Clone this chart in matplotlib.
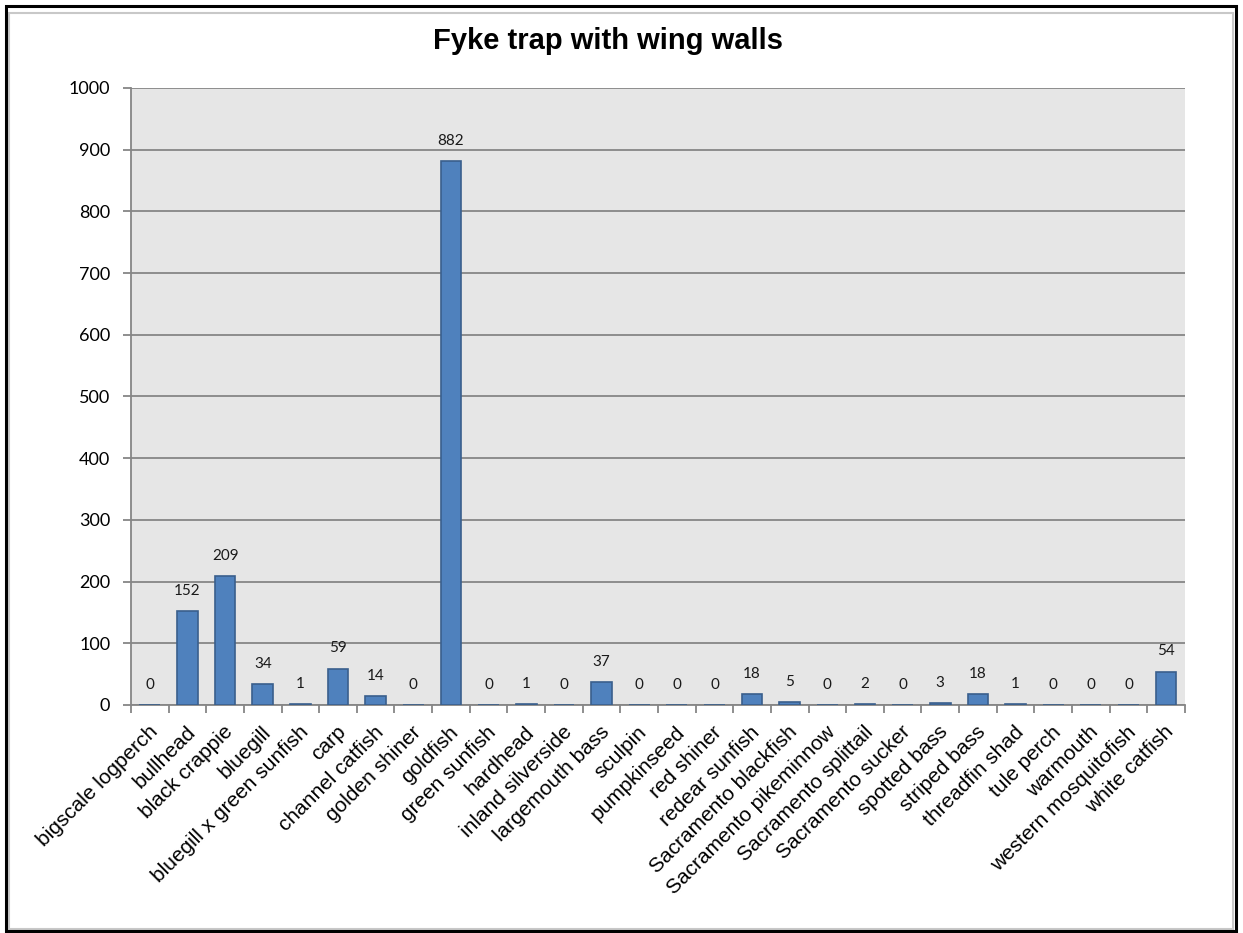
import numpy as np
import matplotlib.pyplot as plt
from matplotlib.patches import Rectangle

species = ['bigscale logperch', 'bullhead', 'black crappie', 'bluegill',
           'bluegill x green sunfish', 'carp', 'channel catfish', 'golden shiner',
           'goldfish', 'green sunfish', 'hardhead', 'inland silverside',
           'largemouth bass', 'sculpin', 'pumpkinseed', 'red shiner',
           'redear sunfish', 'Sacramento blackfish', 'Sacramento pikeminnow',
           'Sacramento splittail', 'Sacramento sucker', 'spotted bass',
           'striped bass', 'threadfin shad', 'tule perch', 'warmouth',
           'western mosquitofish', 'white catfish']
counts = [0, 152, 209, 34, 1, 59, 14, 0, 882, 0, 1, 0, 37, 0, 0, 0,
          18, 5, 0, 2, 0, 3, 18, 1, 0, 0, 0, 54]
yticks = list(range(0, 1001, 100))

fig = plt.figure(figsize=(12.43, 9.33), dpi=100)
ax = fig.add_axes([0.1054, 0.2444, 0.8479, 0.6613])

x = np.arange(len(species))
ax.set_facecolor('#e6e6e6')
ax.bar(x, counts, width=0.55, color='#4f81bd', edgecolor='#3a5f8c',
       linewidth=1.2, zorder=3)

for xi, v in zip(x, counts):
    ax.annotate(str(v), (xi, v), xytext=(0, 9.5), textcoords='offset points',
                ha='center', va='bottom', fontsize=11, family='Lato',
                color='#1a1a1a')

ax.set_xlim(-0.5, len(species) - 0.5)
ax.set_ylim(0, 1000)
ax.set_yticks(yticks)
ax.set_yticklabels([str(t) for t in yticks], family='Lato', fontsize=13)
ax.yaxis.grid(True, color='#868686', linewidth=1.3, zorder=1)
ax.set_axisbelow(True)

# category boundaries for the x ticks, labels at centers
ax.set_xticks(np.arange(len(species) + 1) - 0.5)
ax.set_xticklabels([])
ax.set_xticks(x - 0.05, minor=True)
ax.set_xticklabels(species, minor=True, rotation=45, ha='right', va='top',
                   rotation_mode='anchor', family='Liberation Sans', fontsize=15)
ax.tick_params(axis='x', which='minor', length=0, pad=12.5)
ax.tick_params(axis='x', which='major', length=6, color='#868686', width=1.3)
ax.tick_params(axis='y', length=6, color='#868686', width=1.3, pad=9)

for s in ['top', 'right']:
    ax.spines[s].set_visible(False)
for s in ['left', 'bottom']:
    ax.spines[s].set_color('#868686')
    ax.spines[s].set_linewidth(1.3)

fig.text(0.489, 0.956, 'Fyke trap with wing walls', ha='center', va='center',
         fontsize=21, fontweight='bold', family='Liberation Sans')

# chart frame
fig.add_artist(Rectangle((9 / 1243, 4 / 933), 1224 / 1243, 916 / 933,
                         transform=fig.transFigure, fill=False,
                         edgecolor='#c8c8c8', linewidth=1.5))
fig.add_artist(Rectangle((5.5 / 1243, 2 / 933), 1230 / 1243, 925 / 933,
                         transform=fig.transFigure, fill=False,
                         edgecolor='black', linewidth=2.2))

fig.savefig('out.png', dpi=100)
